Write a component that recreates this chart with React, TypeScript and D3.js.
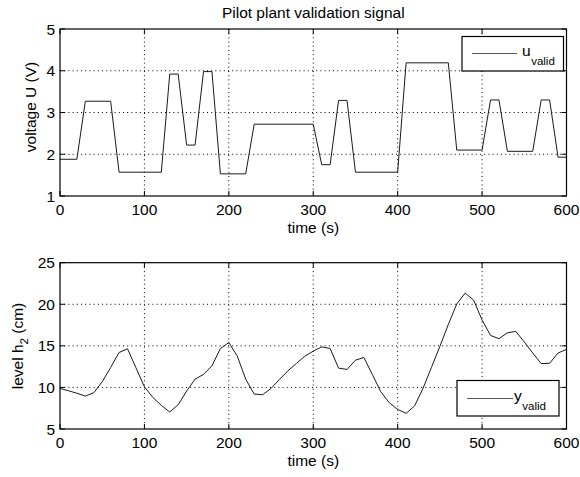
import React from "react";
import * as d3 from "d3";

const uTime = [0, 20, 30, 60, 70, 120, 130, 140, 150, 160, 170, 180, 190, 220, 230, 300, 310, 320, 330, 340, 350, 400, 410, 460, 470, 500, 510, 520, 530, 560, 570, 580, 590, 600];
const uValue = [1.88, 1.88, 3.27, 3.27, 1.57, 1.57, 3.92, 3.92, 2.22, 2.22, 3.98, 3.98, 1.53, 1.53, 2.72, 2.72, 1.75, 1.75, 3.29, 3.29, 1.57, 1.57, 4.19, 4.19, 2.1, 2.1, 3.3, 3.3, 2.07, 2.07, 3.3, 3.3, 1.93, 1.93];

const yTime = [0, 10, 20, 30, 40, 50, 60, 70, 80, 90, 100, 110, 120, 130, 140, 150, 160, 170, 180, 190, 200, 210, 220, 230, 240, 250, 260, 270, 280, 290, 300, 310, 320, 330, 340, 350, 360, 370, 380, 390, 400, 410, 420, 430, 440, 450, 460, 470, 480, 490, 500, 510, 520, 530, 540, 550, 560, 570, 580, 590, 600];
const yValue = [9.88, 9.6, 9.3, 8.96, 9.36, 10.68, 12.4, 14.2, 14.64, 12.36, 10.08, 8.8, 7.84, 7.04, 7.92, 9.56, 11.0, 11.56, 12.6, 14.68, 15.4, 13.76, 11.0, 9.2, 9.12, 9.88, 10.96, 12.0, 12.88, 13.76, 14.36, 14.88, 14.68, 12.32, 12.16, 13.28, 13.6, 11.56, 9.48, 8.16, 7.36, 6.88, 7.77, 9.88, 12.4, 14.94, 17.57, 20.04, 21.35, 20.5, 18.1, 16.25, 15.86, 16.57, 16.73, 15.46, 14.14, 12.87, 12.9, 14.14, 14.58];

const xTicks = [0, 100, 200, 300, 400, 500, 600];
const uTicks = [1, 2, 3, 4, 5];
const yTicks = [5, 10, 15, 20, 25];

const titleText = "Pilot plant validation signal";
const xLabel = "time (s)";

const FONT = "'Liberation Sans', Arial, Helvetica, sans-serif";
const FS = 15.5;
const SUBFS = 11.5;

const L = 60;
const R = 566.5;

type AxProps = {
  top: number;
  bottom: number;
  yDomain: [number, number];
  yTickVals: number[];
  times: number[];
  values: number[];
  ylabel: React.ReactNode;
  legend: { x0: number; x1: number; y0: number; y1: number; lx0: number; lx1: number; ly: number; tx: number; tb: number; main: string };
};

function Axes({ top, bottom, yDomain, yTickVals, times, values, ylabel, legend }: AxProps) {
  const x = d3.scaleLinear().domain([0, 600]).range([L, R]);
  const y = d3.scaleLinear().domain(yDomain).range([bottom, top]);
  const pts: [number, number][] = times.map((t, i) => [t, values[i]]);
  const line = d3
    .line<[number, number]>()
    .x((d) => x(d[0]))
    .y((d) => y(d[1]));
  const tl = 5;
  return (
    <g>
      {/* grid */}
      {xTicks.slice(1, -1).map((t) => (
        <line key={"gx" + t} x1={x(t)} x2={x(t)} y1={top} y2={bottom} stroke="#000" strokeWidth={1} strokeDasharray="1,3.2" />
      ))}
      {yTickVals.slice(1, -1).map((v) => (
        <line key={"gy" + v} x1={L} x2={R} y1={y(v)} y2={y(v)} stroke="#000" strokeWidth={1} strokeDasharray="1,3.2" />
      ))}
      {/* data */}
      <path d={line(pts) || ""} fill="none" stroke="#1a1a1a" strokeWidth={1} />
      {/* box */}
      <rect x={L} y={top} width={R - L} height={bottom - top} fill="none" stroke="#000" strokeWidth={1.2} />
      {/* ticks */}
      {xTicks.map((t) => (
        <g key={"tx" + t}>
          <line x1={x(t)} x2={x(t)} y1={bottom} y2={bottom - tl} stroke="#000" />
          <line x1={x(t)} x2={x(t)} y1={top} y2={top + tl} stroke="#000" />
          <text x={x(t)} y={bottom + 19} textAnchor="middle" fontFamily={FONT} fontSize={FS} fill="#000">
            {t}
          </text>
        </g>
      ))}
      {yTickVals.map((v) => (
        <g key={"ty" + v}>
          <line x1={L} x2={L + tl} y1={y(v)} y2={y(v)} stroke="#000" />
          <line x1={R} x2={R - tl} y1={y(v)} y2={y(v)} stroke="#000" />
          <text x={L - 5} y={y(v) + 5.5} textAnchor="end" fontFamily={FONT} fontSize={FS} fill="#000">
            {v}
          </text>
        </g>
      ))}
      <text x={(L + R) / 2} y={bottom + 37} textAnchor="middle" fontFamily={FONT} fontSize={FS} fill="#000">
        {xLabel}
      </text>
      {ylabel}
      {/* legend */}
      <rect x={legend.x0} y={legend.y0} width={legend.x1 - legend.x0} height={legend.y1 - legend.y0} fill="#fff" stroke="#000" strokeWidth={1.2} />
      <line x1={legend.lx0} x2={legend.lx1} y1={legend.ly} y2={legend.ly} stroke="#555" strokeWidth={1} />
      <text x={legend.tx} y={legend.tb} fontFamily={FONT} fontSize={FS} fill="#000">
        {legend.main}
        <tspan fontSize={SUBFS} dy={9} dx={0.5}>
          valid
        </tspan>
      </text>
    </g>
  );
}

export default function App() {
  return (
    <div style={{ position: "absolute", left: 0, top: 0 }}>
      <svg width={580} height={477} style={{ display: "block", background: "#fff" }}>
        <rect x={0} y={0} width={580} height={477} fill="#fff" />
        <text x={(L + R) / 2} y={18} textAnchor="middle" fontFamily={FONT} fontSize={FS} fill="#000">
          {titleText}
        </text>
        <Axes
          top={29}
          bottom={196}
          yDomain={[1, 5]}
          yTickVals={uTicks}
          times={uTime}
          values={uValue}
          ylabel={
            <text transform="translate(36,107) rotate(-90)" textAnchor="middle" fontFamily={FONT} fontSize={FS} fill="#000">
              voltage U (V)
            </text>
          }
          legend={{ x0: 462, x1: 563.5, y0: 36.5, y1: 71, lx0: 472, lx1: 517, ly: 53.5, tx: 522, tb: 56, main: "u" }}
        />
        <Axes
          top={262.7}
          bottom={429}
          yDomain={[5, 25]}
          yTickVals={yTicks}
          times={yTime}
          values={yValue}
          ylabel={
            <text transform="translate(22.5,346) rotate(-90)" textAnchor="middle" fontFamily={FONT} fontSize={FS} fill="#000">
              level h
              <tspan fontSize={SUBFS} dy={5}>2</tspan>
              <tspan dy={-5}> (cm)</tspan>
            </text>
          }
          legend={{ x0: 457, x1: 559, y0: 380.5, y1: 416, lx0: 467, lx1: 513, ly: 398.5, tx: 514, tb: 401, main: "y" }}
        />
      </svg>
    </div>
  );
}
